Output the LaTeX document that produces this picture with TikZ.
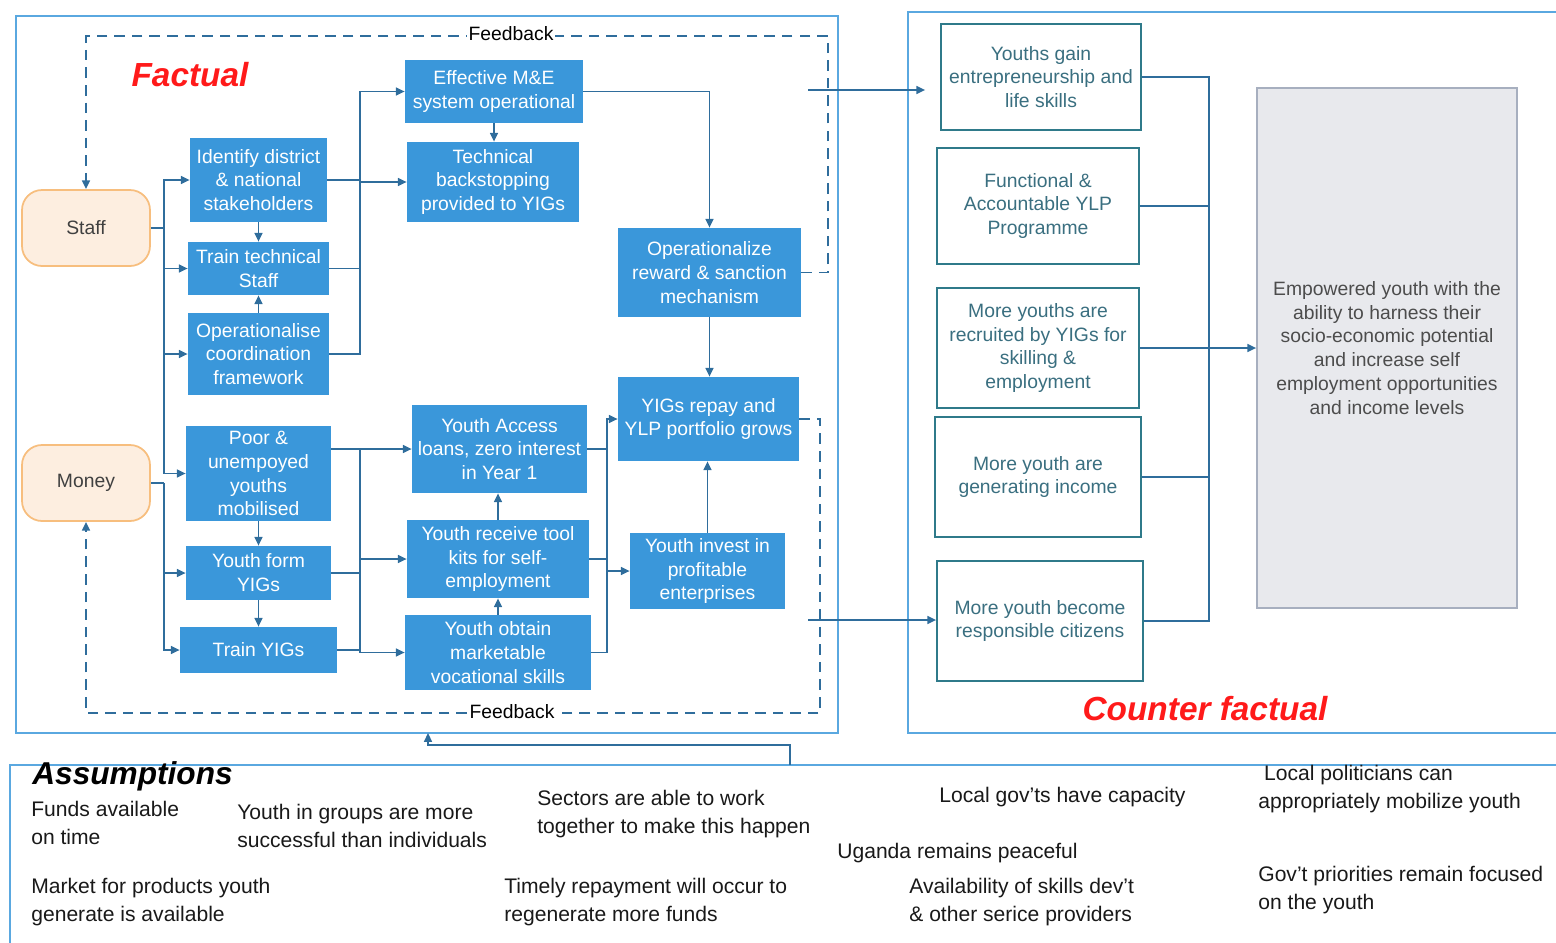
\documentclass[tikz,border=0pt]{standalone}
\usepackage{fontspec}
\setmainfont{Liberation Sans}
\usepackage{tikz}
\usetikzlibrary{positioning}
\usetikzlibrary{arrows.meta, arrows}
\definecolor{BoxBlue}{HTML}{3A97DA}
\definecolor{LinkBlue}{HTML}{2F6D9C}
\definecolor{FrameBlue}{HTML}{5AA8E0}
\definecolor{OutTeal}{HTML}{2F7A8A}
\definecolor{OutText}{HTML}{3A6F80}
\definecolor{SrcFill}{HTML}{FDEEE0}
\definecolor{SrcLine}{HTML}{F7BE7E}
\definecolor{GoalFill}{HTML}{E8E9ED}
\definecolor{GoalLine}{HTML}{A7AFBF}
\definecolor{TitleRed}{HTML}{FF1A1A}
\tikzset{
	blk/.style={ % aktivitet / output
			fill=BoxBlue,
			text=white,
			align=center,
			inner sep=0pt,
			font=\fontsize{11}{13.6}\selectfont
		},
	res/.style={ % outcome
			draw=OutTeal,
			line width=1pt,
			fill=white,
			text=OutText,
			align=center,
			inner sep=0pt,
			font=\fontsize{11}{13.6}\selectfont
		},
	src/.style={ % input
			draw=SrcLine,
			line width=1pt,
			fill=SrcFill,
			text=black!75,
			rounded corners=0.4cm,
			minimum width=2.56cm,
			minimum height=1.52cm,
			font=\fontsize{11}{13.6}\selectfont
		},
	link/.style={draw=LinkBlue, line width=1pt},
	fb/.style={link, dash pattern=on 6pt off 4pt},
	frame/.style={draw=FrameBlue, line width=1pt},
	fblbl/.style={fill=white, inner sep=1pt, font=\fontsize{11}{13}\selectfont},
	asm/.style={anchor=west, align=left, inner sep=0pt, text=black!90,
			font=\fontsize{12}{15.5}\selectfont},
	ttl/.style={text=TitleRed, font=\fontsize{19}{22}\selectfont\bfseries\itshape}
}

\begin{document}
\begin{tikzpicture}[x=0.02cm, y=-0.02cm, >={Triangle[length=5pt,width=4.5pt]}]
			\useasboundingbox (0,0) rectangle (1556,943);
			% Frames
			\draw[frame] (16,16) rectangle (838,733);
			\draw[frame] (1560,12) -- (908,12) -- (908,733) -- (1560,733);
			\draw[frame] (1560,765) -- (10,765) -- (10,950);

			% Titles
			\node (factual) [ttl] at (190,75) {Factual};
			\node (counter) [ttl] at (1205,709) {Counter factual};
			\node (assume) [anchor=west, inner sep=0pt, font=\fontsize{18}{20}\selectfont\bfseries\itshape] at (32,776) {Assumptions};

			% Nodes
			\node (staff) [src] at (86,228) {Staff};
			\node (money) [src] at (86,483) {Money};

			\node (ident) [blk, minimum width=2.74cm, minimum height=1.68cm] at (258.5,180) {Identify district\\\& national\\stakeholders};
			\node (trtech) [blk, minimum width=2.82cm, minimum height=1.06cm] at (258.5,268.5) {Train technical\\Staff};
			\node (opcoord) [blk, minimum width=2.82cm, minimum height=1.64cm] at (258.5,354) {Operationalise\\coordination\\framework};
			\node (poor) [blk, minimum width=2.9cm, minimum height=1.9cm] at (258.5,473.5) {Poor \&\\unempoyed\\youths\\mobilised};
			\node (form) [blk, minimum width=2.9cm, minimum height=1.08cm] at (258.5,573) {Youth form\\YIGs};
			\node (trainy) [blk, minimum width=3.14cm, minimum height=0.92cm] at (258.5,650) {Train YIGs};

			\node (me) [blk, minimum width=3.56cm, minimum height=1.26cm] at (494,91.5) {Effective M\&E\\system operational};
			\node (techback) [blk, minimum width=3.44cm, minimum height=1.6cm] at (493,182) {Technical\\backstopping\\provided to YIGs};
			\node (access) [blk, minimum width=3.5cm, minimum height=1.76cm] at (499.5,449) {Youth Access\\loans, zero interest\\in Year 1};
			\node (toolkits) [blk, minimum width=3.64cm, minimum height=1.56cm] at (498,559) {Youth receive tool\\kits for self-\\employment};
			\node (obtain) [blk, minimum width=3.72cm, minimum height=1.5cm] at (498,652.5) {Youth obtain\\marketable\\vocational skills};

			\node (opreward) [blk, minimum width=3.66cm, minimum height=1.78cm] at (709.5,272.5) {Operationalize\\reward \& sanction\\mechanism};
			\node (yigsrepay) [blk, minimum width=3.62cm, minimum height=1.68cm] at (708.5,419) {YIGs repay and\\YLP portfolio grows};
			\node (invest) [blk, minimum width=3.1cm, minimum height=1.52cm] at (707.5,571) {Youth invest in\\profitable\\enterprises};

			\node (o1) [res, minimum width=4cm, minimum height=2.12cm] at (1041,77) {Youths gain\\entrepreneurship and\\life skills};
			\node (o2) [res, minimum width=4.04cm, minimum height=2.32cm] at (1038,206) {Functional \&\\Accountable YLP\\Programme};
			\node (o3) [res, minimum width=4.04cm, minimum height=2.4cm] at (1038,348) {More youths are\\recruited by YIGs for\\skilling \&\\employment};
			\node (o4) [res, minimum width=4.12cm, minimum height=2.4cm] at (1038,477) {More youth are\\generating income};
			\node (o5) [res, minimum width=4.12cm, minimum height=2.4cm] at (1040,621) {More youth become\\responsible citizens};

			\node (goal) [draw=GoalLine, line width=1pt, fill=GoalFill, text=black!70, align=center, minimum width=5.2cm, minimum height=10.4cm, font=\fontsize{11}{13.6}\selectfont] at (1387,348) {Empowered youth with the\\ability to harness their\\socio-economic potential\\and increase self\\employment opportunities\\and income levels};

			% Assumptions
			\node (funds) [asm] at (31,823) {Funds available\\on time};
			\node (groups) [asm] at (237,826) {Youth in groups are more\\successful than individuals};
			\node (sectors) [asm] at (537,814) {Sectors are able to work\\together to make this happen};
			\node (localgov) [asm] at (939,797) {Local gov'ts have capacity};
			\node (politic) [asm] at (1258,789) {\ Local politicians can\\appropriately mobilize youth};
			\node (uganda) [asm] at (837,853) {Uganda remains peaceful};
			\node (market) [asm] at (31,902) {Market for products youth\\generate is available};
			\node (timely) [asm] at (504,902) {Timely repayment will occur to\\regenerate more funds};
			\node (skills) [asm] at (909,902) {Availability of skills dev't\\\& other serice providers};
			\node (prior) [asm] at (1258,890) {Gov't priorities remain focused\\on the youth};

			% Inputs -> activities
			\coordinate (sbus) at (164,228);
			\coordinate (mbus) at (164,483);
			\draw[link] (staff.east) -- (sbus);
			\draw[link,->] (sbus) |- (ident.west);
			\draw[link,->] (sbus) |- (trtech.west);
			\draw[link,->] (sbus) |- (opcoord.west);
			\draw[link,->] (sbus) |- (poor.west);
			\draw[link] (money.east) -- (mbus);
			\draw[link,->] (mbus) |- (form.west);
			\draw[link,->] (mbus) |- (trainy.west);

			\draw[link,->] (ident.south) -- (trtech.north);
			\draw[link,->] (opcoord.north) -- (trtech.south);
			\draw[link,->] (poor.south) -- (form.north);
			\draw[link,->] (form.south) -- (trainy.north);

			% Activities -> outputs
			\coordinate (cbus) at (360,180);
			\draw[link] (ident.east) -- (cbus);
			\draw[link] (trtech.east) -| (cbus);
			\draw[link] (opcoord.east) -| (cbus);
			\draw[link,->] (cbus) |- (me.west);
			\draw[link,->] (cbus) |- (techback.west);

			\coordinate (ybus) at (360,449);
			\draw[link,->] (poor.east |- ybus) -- (access.west);
			\draw[link] (form.east) -| (ybus);
			\draw[link] (trainy.east) -| (ybus);
			\draw[link,->] (ybus) |- (toolkits.west);
			\draw[link,->] (ybus) |- (obtain.west);

			\draw[link,->] (me.south) -- (me.south |- techback.north);
			\draw[link,->] (toolkits.north) -- (toolkits.north |- access.south);
			\draw[link,->] (obtain.north) -- (obtain.north |- toolkits.south);

			\coordinate (rbus) at (607,449);
			\draw[link] (access.east) -- (rbus);
			\draw[link] (toolkits.east) -| (rbus);
			\draw[link] (obtain.east) -| (rbus);
			\draw[link,->] (rbus) |- (yigsrepay.west);
			\draw[link,->] (rbus) |- (invest.west);

			\draw[link,->] (me.east) -| (opreward.north);
			\draw[link,->] (opreward.south) -- (opreward.south |- yigsrepay.north);
			\draw[link,->] (invest.north) -- (invest.north |- yigsrepay.south);

			% Feedback
			\draw[fb,->] (opreward.east) -- (828,272.5) |- (86,36) -- (staff.north);
			\draw[fb,->] (yigsrepay.east) -- (820,419) |- (86,713) -- (money.south);
			\node (fbtop) [fblbl] at (511,34) {Feedback};
			\node (fbbot) [fblbl] at (512,712) {Feedback};

			% Factual -> counter factual
			\coordinate (out1) at (808,90);
			\coordinate (out2) at (808,620);
			\draw[link,->,shorten >=0.3cm] (out1) -- (out1 -| o1.west);
			\draw[link,->] (out2) -- (out2 -| o5.west);

			\coordinate (obus) at (1209,348);
			\draw[link] (o1.east) -| (obus);
			\draw[link] (o2.east) -| (obus);
			\draw[link] (o4.east) -| (obus);
			\draw[link] (o5.east) -| (obus);
			\draw[link,->] (o3.east) -- (goal.west);

			% Assumptions -> factual
			\coordinate (asmtop) at (790,765);
			\coordinate (factbot) at (428,733);
			\draw[link,->] (asmtop) -- ++(0,-20) -| (factbot);
		\end{tikzpicture}
\end{document}
